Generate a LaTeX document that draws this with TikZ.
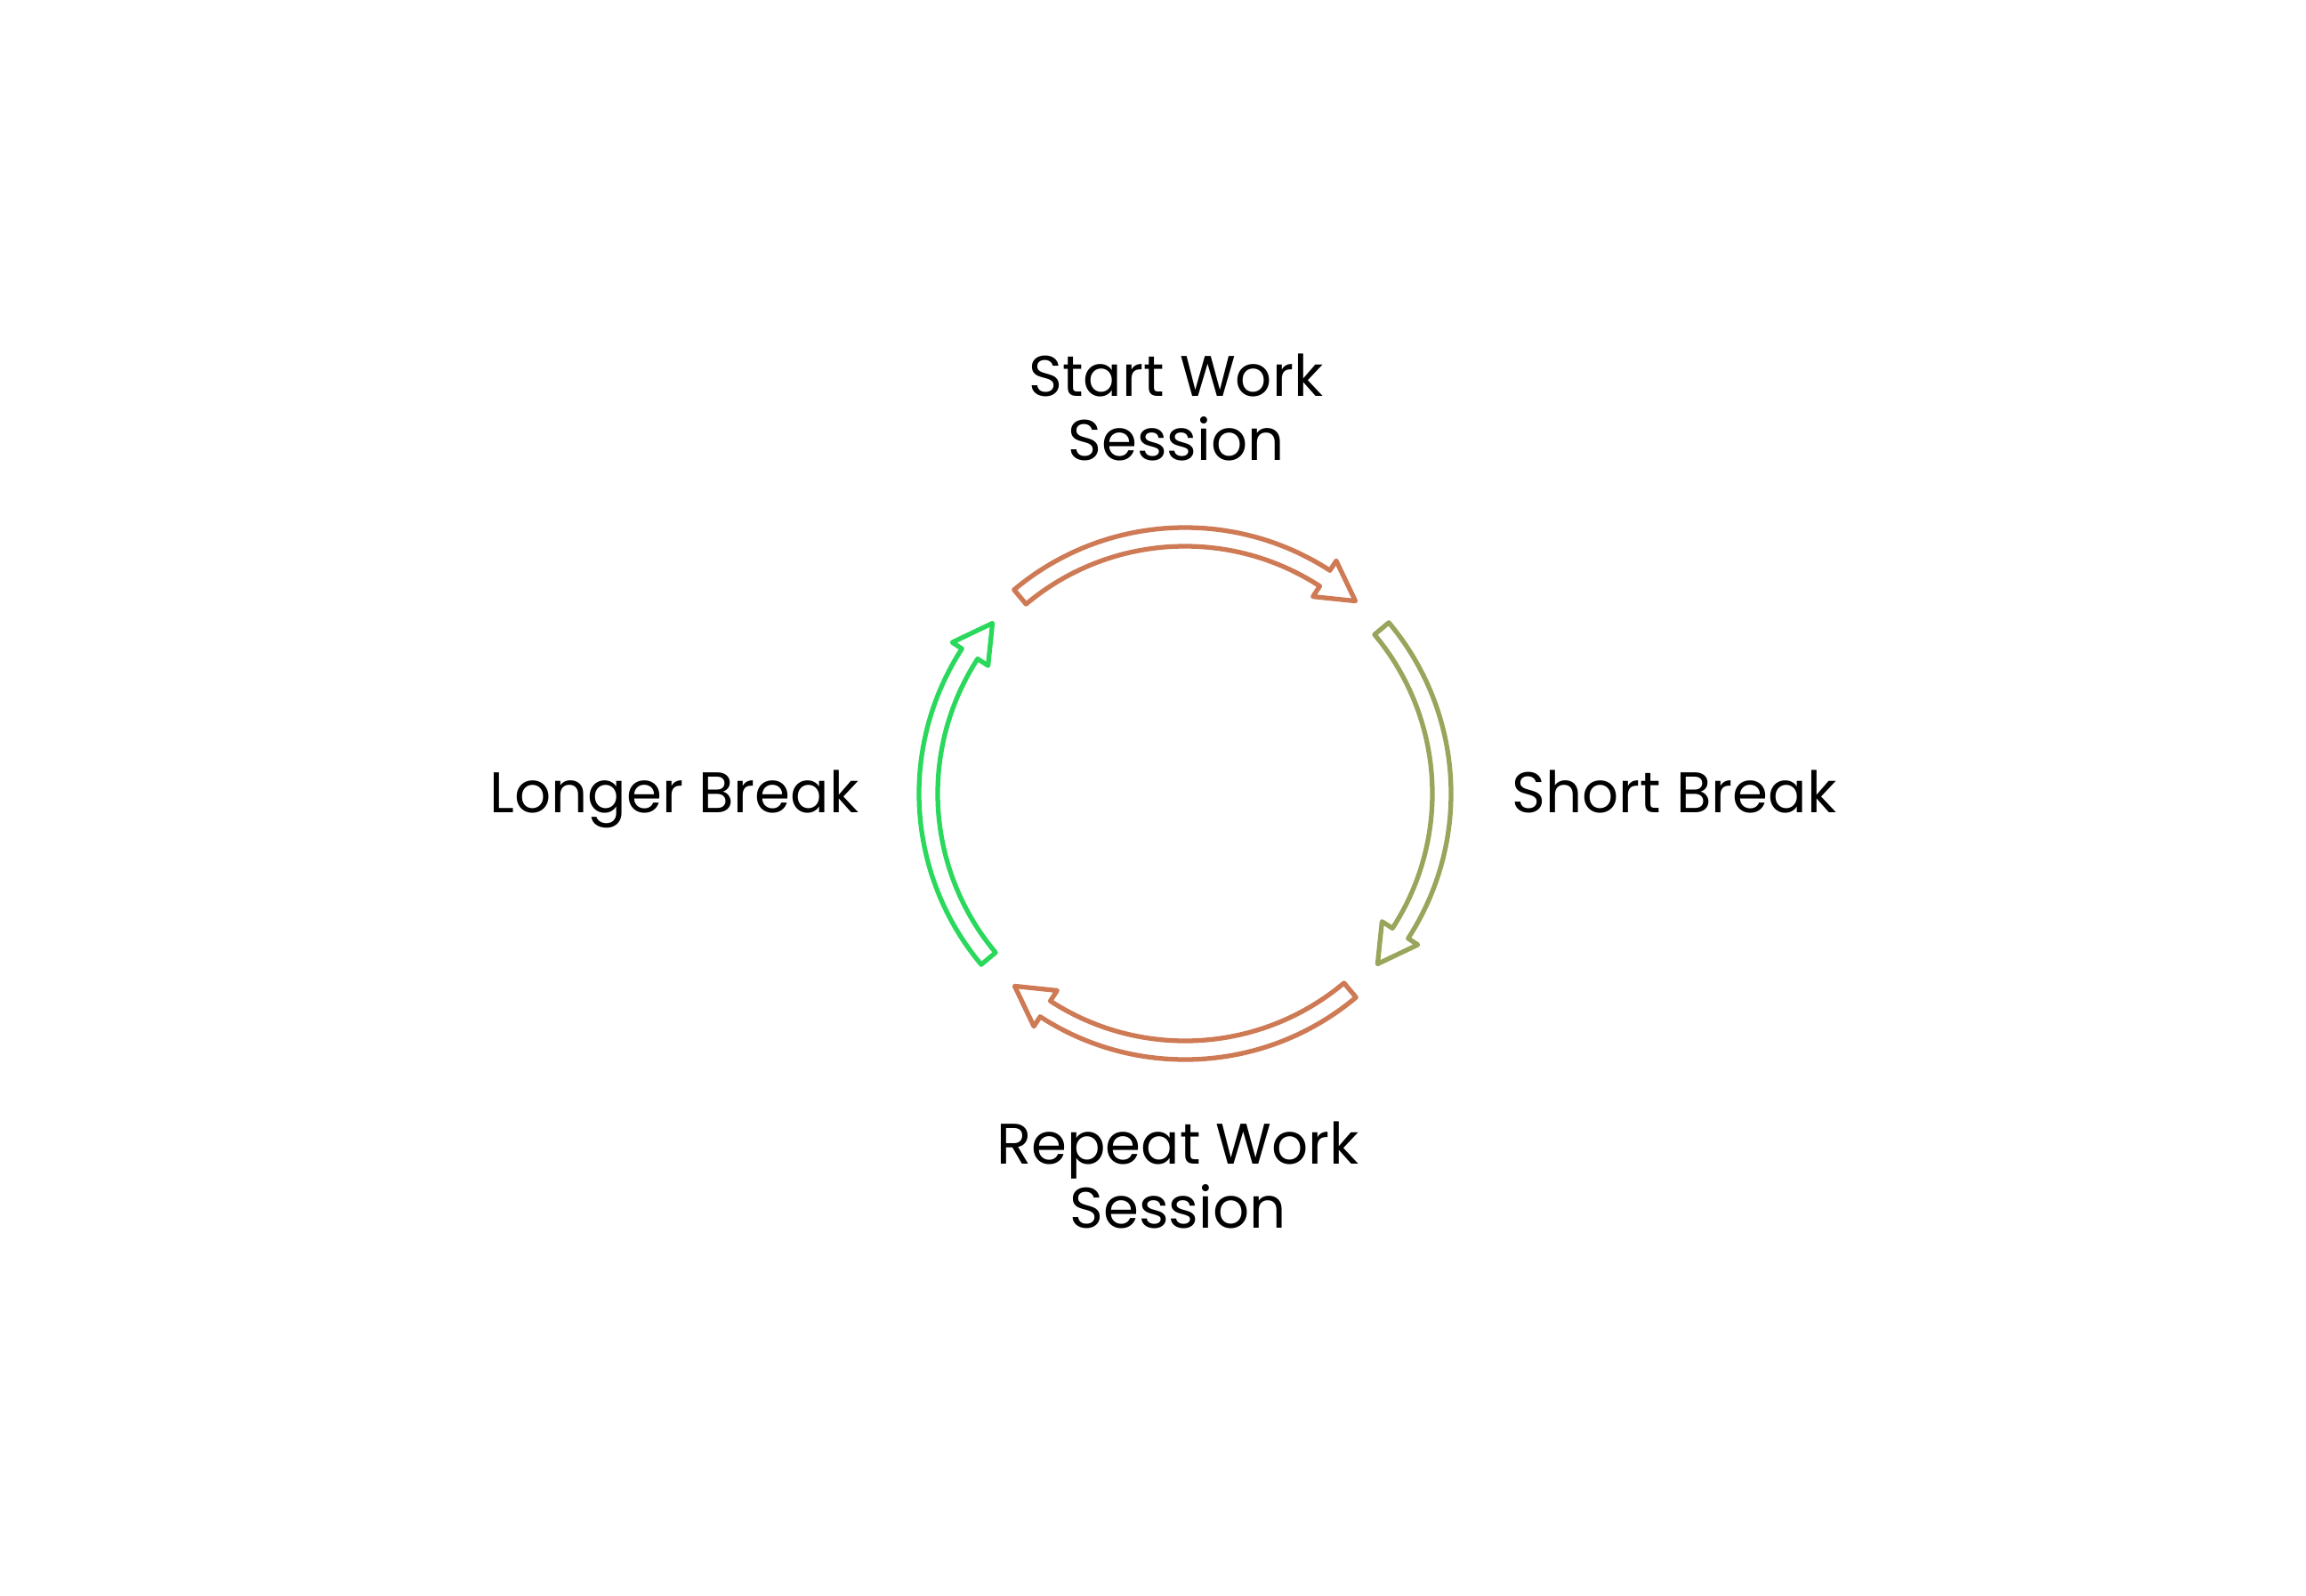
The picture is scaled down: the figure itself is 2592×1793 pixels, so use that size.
\documentclass[tikz,border=0pt]{standalone}
\usepackage{fontspec}
\setmainfont{Poppins}
\definecolor{workorange}{HTML}{CE7A55}
\definecolor{shortolive}{HTML}{98A55A}
\definecolor{longgreen}{HTML}{2AD95C}
\tikzset{
  cyclearrow/.style={line width=1.5pt,line join=round,fill=white},
  steplabel/.style={font=\fontsize{18.3}{20.2}\selectfont,align=center,inner sep=0pt,anchor=base}
}
\begin{document}
\begin{tikzpicture}[x=0.01cm,y=0.01cm]
  % The frame
  \useasboundingbox (-1332,-901) rectangle (1260,892);
  % The four arrows of the cycle
  \foreach \rot/\col in {0/workorange,-90/shortolive,180/workorange,90/longgreen}
  {
    \draw[cyclearrow,draw=\col,rotate=\rot]
      (130:299) arc[start angle=130,end angle=57,radius=299]
      -- (57:312) -- (48.5:289) -- (57:264) -- (57:278)
      arc[start angle=57,end angle=130,radius=278] -- cycle;
  }
  % The labels (base is the last line)
  \node[steplabel] (start) at (-10,375) {Start Work\\Session};
  \node[steplabel] (short) at (550,-21) {Short Break};
  \node[steplabel] (repeat) at (-8,-488) {Repeat Work\\Session};
  \node[steplabel] (longer) at (-574,-21) {Longer Break};
\end{tikzpicture}
\end{document}
